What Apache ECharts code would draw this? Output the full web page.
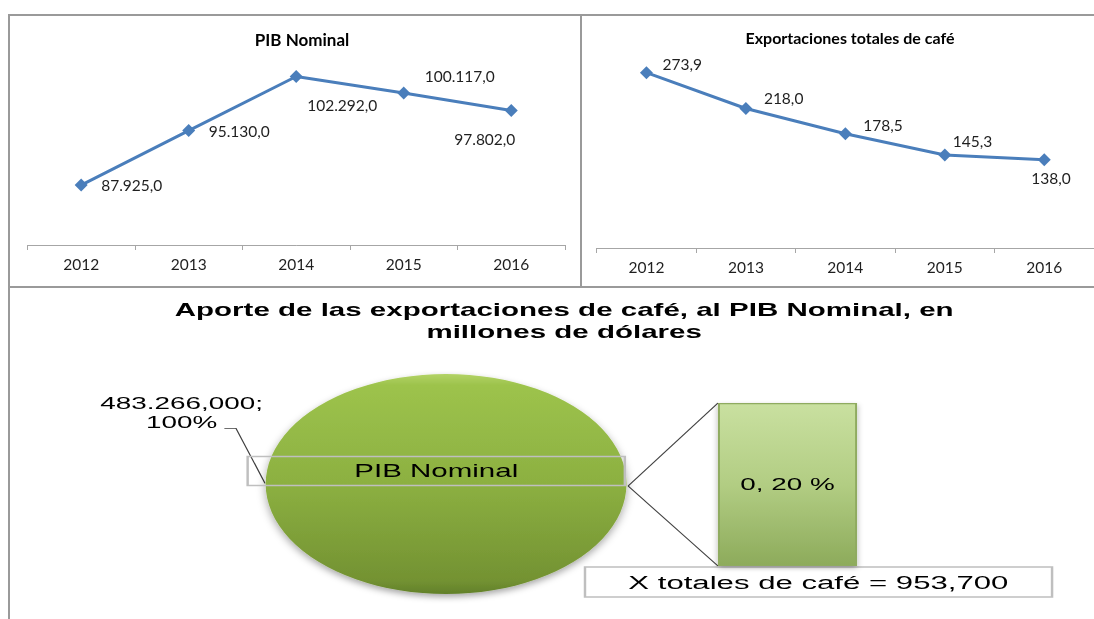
<!DOCTYPE html>
<html lang="es">
  <head>
    <meta charset="UTF-8" />
    <title>PIB Nominal y exportaciones de café</title>
    <script src="https://cdn.jsdelivr.net/npm/echarts@6.0.0/dist/echarts.min.js"></script>
    <style>
      body {
        margin: 0;
        background: #fff;
        width: 1094px;
        height: 619px;
        overflow: hidden;
        position: relative;
      }
      #top {
        position: absolute;
        left: 0;
        top: 0;
        width: 1094px;
        height: 290px;
      }
      /* the bottom chart is stretched sideways, like the original picture */
      #bottom {
        position: absolute;
        left: 0;
        top: 286px;
        width: 667px;
        height: 333px;
        transform: scaleX(1.64);
        transform-origin: 0 0;
      }
      .frame {
        position: absolute;
        box-sizing: border-box;
        border: 0 solid #9a9a9a;
        pointer-events: none;
      }
    </style>
  </head>
  <body>
    <div id="top"></div>
    <div id="bottom"></div>
    <div class="frame" style="left:8px;top:14px;width:574px;height:274px;border-width:2px"></div>
    <div class="frame" style="left:580px;top:14px;width:520px;height:274px;border-width:2px 0"></div>
    <div class="frame" style="left:8px;top:286px;width:2px;height:340px;border-left-width:2px"></div>

    <script>
      const years = ["2012", "2013", "2014", "2015", "2016"];
      const pibNominal = [87925.0, 95130.0, 102292.0, 100117.0, 97802.0];
      const exportCafe = [273.9, 218.0, 178.5, 145.3, 138.0];
      const pibTotal = 483266.0;
      const cafeTotal = 953.7;
      const pibShare = 100;

      // label offsets from each point (text left edge, text middle)
      const pibLabelOffset = [[20, 1], [20, 1], [11, 30], [21, -16], [-57, 30]];
      const cafeLabelOffset = [[16, -8], [18, -9], [18, -8], [8, -13], [-13, 19]];

      // 87925 -> "87.925,0"
      function fmtEs(v, dec) {
        const parts = v.toFixed(dec).split(".");
        parts[0] = parts[0].replace(/\B(?=(\d{3})+(?!\d))/g, ".");
        return parts.join(",");
      }

      const blue = "#4a7ebb";
      const axisGray = "#a6a6a6";
      const txt = "#1f1f1f";

      function lineSeries(values, offsets, xi) {
        return {
          type: "line",
          xAxisIndex: xi,
          yAxisIndex: xi,
          data: values.map((v, i) => ({ value: v, label: { offset: offsets[i] } })),
          symbol: "diamond",
          symbolSize: 13,
          lineStyle: { color: blue, width: 3 },
          itemStyle: { color: blue },
          label: {
            show: true,
            position: "inside",
            align: "left",
            verticalAlign: "middle",
            fontFamily: "Lato",
            fontSize: 15.5,
            color: txt,
            formatter: (p) => fmtEs(p.value, 1),
          },
          silent: true,
        };
      }

      function catAxis(gi) {
        return {
          type: "category",
          gridIndex: gi,
          data: years,
          boundaryGap: true,
          axisLine: { lineStyle: { color: axisGray, width: 1 } },
          axisTick: { show: true, length: 5, lineStyle: { color: axisGray } },
          axisLabel: { margin: 12, fontFamily: "Lato", fontSize: 15.5, color: txt },
        };
      }

      const topChart = echarts.init(document.getElementById("top"));
      topChart.setOption({
        animation: false,
        title: [
          {
            text: "PIB Nominal",
            left: 297,
            top: 27,
            textAlign: "center",
            textStyle: { fontFamily: "Lato", fontWeight: "bold", fontSize: 17, color: "#000" },
          },
          {
            text: "Exportaciones totales de café",
            left: 845,
            top: 26,
            textAlign: "center",
            textStyle: { fontFamily: "Lato", fontWeight: "bold", fontSize: 16, color: "#000" },
          },
        ],
        grid: [
          { left: 27.4, top: 56, width: 537.6, height: 189 },
          { left: 596.7, top: 56, width: 497.3, height: 192 },
        ],
        xAxis: [catAxis(0), catAxis(1)],
        yAxis: [
          { type: "value", gridIndex: 0, min: 80000, max: 105000, show: false },
          { type: "value", gridIndex: 1, min: 0, max: 300, show: false },
        ],
        series: [
          lineSeries(pibNominal, pibLabelOffset, 0),
          lineSeries(exportCafe, cafeLabelOffset, 1),
        ],
      });

      const arial = "Liberation Sans";
      const bottomChart = echarts.init(document.getElementById("bottom"), null, {
        renderer: "svg",
        width: 667,
        height: 333,
      });
      bottomChart.setOption({
        animation: false,
        title: {
          text: "Aporte de las exportaciones de café, al PIB Nominal, en\nmillones de dólares",
          left: 339,
          top: 8,
          textAlign: "center",
          textStyle: { fontFamily: arial, fontWeight: "bold", fontSize: 18, lineHeight: 22, color: "#000" },
        },
        grid: { left: 437.8, top: 117, width: 84.8, height: 163 },
        xAxis: { type: "category", data: ["X totales de café"], show: false },
        yAxis: { type: "value", min: 0, max: cafeTotal, show: false },
        series: [
          {
            type: "pie",
            center: [272, 198],
            radius: 110,
            silent: true,
            data: [{ name: "PIB Nominal", value: pibTotal }],
            itemStyle: {
              color: {
                type: "linear", x: 0, y: 0, x2: 0, y2: 1,
                colorStops: [
                  { offset: 0, color: "#b3d366" },
                  { offset: 0.05, color: "#9dc34c" },
                  { offset: 0.5, color: "#8cb041" },
                  { offset: 0.94, color: "#739232" },
                  { offset: 1, color: "#62802a" },
                ],
              },
              shadowBlur: 6,
              shadowOffsetY: 3,
              shadowColor: "rgba(0,0,0,0.35)",
            },
            label: {
              show: true,
              position: "center",
              formatter: "{b}",
              fontFamily: arial,
              fontSize: 18,
              color: "#000",
              width: 230,
              height: 29,
              lineHeight: 29,
              align: "center",
              verticalAlign: "middle",
              borderColor: "#bfbfbf",
              borderWidth: 1.5,
            },
            labelLine: { show: false },
            labelLayout: { dx: -6, dy: -13 },
          },
          {
            type: "bar",
            data: [cafeTotal],
            barWidth: "100%",
            silent: true,
            itemStyle: {
              color: {
                type: "linear", x: 0, y: 0, x2: 0, y2: 1,
                colorStops: [
                  { offset: 0, color: "#c9e0a0" },
                  { offset: 0.5, color: "#b2cd83" },
                  { offset: 1, color: "#8dab5b" },
                ],
              },
              borderColor: "#8fab60",
              borderWidth: 1.2,
              shadowBlur: 4,
              shadowOffsetY: 2,
              shadowColor: "rgba(0,0,0,0.3)",
            },
            label: {
              show: true,
              position: "inside",
              fontFamily: arial,
              fontSize: 17,
              color: "#000",
              formatter: () => {
                const p = ((cafeTotal / pibTotal) * 100).toFixed(2).split(".");
                return p[0] + ", " + p[1] + " %";
              },
            },
          },
        ],
        graphic: [
          {
            type: "polyline",
            shape: { points: [[136.8, 142.3], [143.9, 142.3], [161.6, 197.3]] },
            style: { stroke: "#404040", lineWidth: 0.8, fill: null },
          },
          {
            type: "text",
            x: 110.7,
            y: 126.5,
            style: {
              text: fmtEs(pibTotal, 3) + ";\n" + pibShare + "%",
              align: "center",
              verticalAlign: "middle",
              textAlign: "center",
              textVerticalAlign: "middle",
              fontFamily: arial,
              fontSize: 17,
              lineHeight: 19,
              fill: "#000",
            },
          },
          {
            type: "line",
            shape: { x1: 383, y1: 200, x2: 437.8, y2: 117 },
            style: { stroke: "#404040", lineWidth: 0.8 },
          },
          {
            type: "line",
            shape: { x1: 383, y1: 200, x2: 437.8, y2: 280 },
            style: { stroke: "#404040", lineWidth: 0.8 },
          },
          {
            type: "rect",
            shape: { x: 356.7, y: 281, width: 284.8, height: 30 },
            style: { fill: "#fff", stroke: "#bfbfbf", lineWidth: 1.5 },
          },
          {
            type: "text",
            x: 499,
            y: 296,
            style: {
              text: "X totales de café = " + fmtEs(cafeTotal, 3),
              align: "center",
              verticalAlign: "middle",
              textAlign: "center",
              textVerticalAlign: "middle",
              fontFamily: arial,
              fontSize: 19,
              fill: "#000",
            },
          },
        ],
      });
    </script>
  </body>
</html>
